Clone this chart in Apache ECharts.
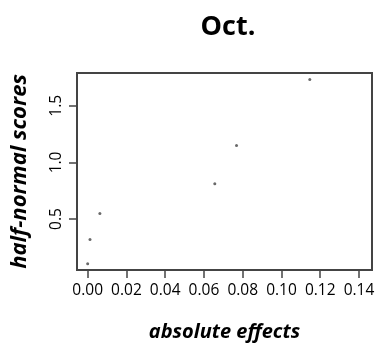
<!DOCTYPE html>
<html><head><meta charset="utf-8">
<script src="https://cdn.jsdelivr.net/npm/echarts@6/dist/echarts.min.js"></script>
<style>html,body{margin:0;padding:0;background:#fff}#c{width:386px;height:343px}</style>
</head><body><div id="c"></div>
<script>
var titleText = "Oct.";
var xName = "absolute effects";
var yName = "half-normal scores";
var effects = [0.0000, 0.0012, 0.0063, 0.0656, 0.0768, 0.1146];
var scores = [0.105, 0.319, 0.549, 0.812, 1.150, 1.732];
var xTicks = [0.00, 0.02, 0.04, 0.06, 0.08, 0.10, 0.12, 0.14];
var yTicks = [0.5, 1.0, 1.5];

var font = "Open Sans";
var chart = echarts.init(document.getElementById('c'), null, {renderer: 'canvas'});
chart.setOption({
  animation: false,
  title: {text: titleText, left: 223, top: 9, textAlign: 'center',
    textStyle: {fontFamily: font, fontWeight: 'bold', fontSize: 27, color: '#000'}},
  grid: {left: 77, right: 14, top: 73, bottom: 73, show: true, borderColor: '#444', borderWidth: 2,
    backgroundColor: 'transparent', containLabel: false, outerBoundsMode: 'none'},
  xAxis: {type: 'value', min: -0.0055, max: 0.1467,
    name: xName, nameLocation: 'middle', nameGap: 52,
    nameTextStyle: {fontFamily: font, fontWeight: 'bold', fontStyle: 'italic', fontSize: 20, color: '#000'},
    axisLine: {show: false, onZero: false}, splitLine: {show: false},
    axisTick: {show: true, length: 8, inside: false, customValues: xTicks, lineStyle: {color: '#444', width: 1.5}},
    axisLabel: {customValues: xTicks, formatter: function(v){return v.toFixed(2);}, fontFamily: font, fontSize: 15.5, color: '#000', margin: 13}},
  yAxis: {type: 'value', min: 0.05, max: 1.79,
    name: yName, nameLocation: 'middle', nameGap: 46, nameRotate: 90,
    nameTextStyle: {fontFamily: font, fontWeight: 'bold', fontStyle: 'italic', fontSize: 22, color: '#000'},
    axisLine: {show: false, onZero: false}, splitLine: {show: false},
    axisTick: {show: true, length: 8, inside: false, customValues: yTicks, lineStyle: {color: '#444', width: 1.5}},
    axisLabel: {customValues: yTicks, rotate: 90, formatter: function(v){return v.toFixed(1);}, fontFamily: font, fontSize: 15.5, color: '#000', margin: 12}},
  series: [{type: 'scatter', data: effects.map(function(x,i){return [x, scores[i]];}),
    symbol: 'circle', symbolSize: 3, itemStyle: {color: '#444'}}]
});
</script></body></html>
